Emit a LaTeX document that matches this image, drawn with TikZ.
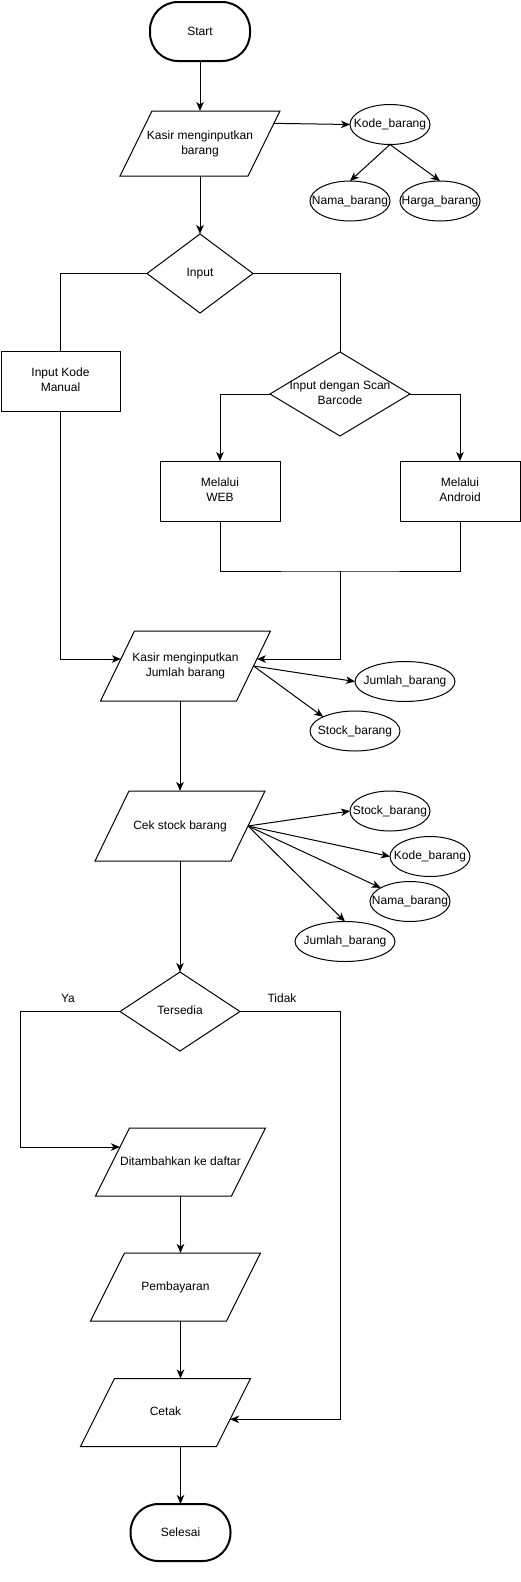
\documentclass[tikz,border=0pt]{standalone}
\usepackage{fontspec}
\setmainfont{Liberation Sans}
\usetikzlibrary{shapes.geometric,arrows.meta,calc}
\newcommand\zw[1]{\makebox[0pt]{\begin{tabular}{@{}c@{}}#1\end{tabular}}}
% #1 name, #2 centre, #3 top length, #4 height, #5 half skew, #6 text
\newcommand\paranode[6]{%
  \node[paratext, minimum width=#3, minimum height=#4] (#1) at (#2) {\zw{#6}};
  \coordinate (#1-tl) at ($(#1.north west)+(#5,0)$);
  \coordinate (#1-tr) at ($(#1.north east)+(#5,0)$);
  \coordinate (#1-br) at ($(#1.south east)+(-#5,0)$);
  \coordinate (#1-bl) at ($(#1.south west)+(-#5,0)$);
  \draw (#1-tl) -- (#1-tr) -- (#1-br) -- (#1-bl) -- cycle;
}
\begin{document}
\begin{tikzpicture}[x=1pt,y=-1pt,line width=1pt,
  every node/.style={font=\fontsize{12}{15}\selectfont, inner sep=0pt, outer sep=0pt},
  terminal/.style={draw, line width=2pt, rectangle, rounded corners=28pt, minimum width=100pt, minimum height=59pt},
  paratext/.style={rectangle},
  box/.style={draw, rectangle, minimum width=120pt, minimum height=60pt},
  dec/.style={draw, diamond},
  ell/.style={draw, ellipse, minimum width=80pt, minimum height=40pt},
  arr/.style={-{Stealth[length=9pt,width=7.5pt,inset=2.5pt]}}]
\useasboundingbox (0,0) rectangle (521,1582);

% nodes
\node[terminal] (start) at (200,31.5) {Start};
\paranode{p1}{200,143.5}{128pt}{65pt}{16}{Kasir menginputkan\\barang}
\node[ell] (kode1) at (390,124.5) {\zw{Kode\_barang}};
\node[ell] (nama1) at (350,201) {\zw{Nama\_barang}};
\node[ell] (harga1) at (440,201) {\zw{Harga\_barang}};
\node[dec, minimum width=106pt, minimum height=79pt] (input) at (200,273.5) {\zw{Input}};
\node[box, minimum width=119pt] (manual) at (60.5,381) {\zw{Input Kode\\Manual}};
\node[dec, minimum width=140pt, minimum height=84pt] (scan) at (340,394) {\zw{Input dengan Scan\\Barcode}};
\node[box] (web) at (220,491) {\zw{Melalui\\WEB}};
\node[box] (android) at (460,491) {\zw{Melalui\\Android}};
\coordinate (join) at (340,571);
\paranode{p2}{185.5,666}{136pt}{70pt}{17}{Kasir menginputkan\\Jumlah barang}
\node[ell, minimum width=100pt] (jumlah2) at (405,681.5) {\zw{Jumlah\_barang}};
\node[ell, minimum width=90pt] (stock2) at (355,731) {\zw{Stock\_barang}};
\paranode{cek}{180,826}{136pt}{70pt}{17}{Cek stock barang}
\node[ell] (stock3) at (390,811) {\zw{Stock\_barang}};
\node[ell] (kode3) at (430,856.5) {\zw{Kode\_barang}};
\node[ell] (nama3) at (410,901.5) {\zw{Nama\_barang}};
\node[ell, minimum width=100pt] (jumlah3) at (345,941.5) {\zw{Jumlah\_barang}};
\node[dec, minimum width=120pt, minimum height=79pt] (tersedia) at (180,1011.5) {\zw{Tersedia}};
\node (ya) at (68,998.5) {Ya};
\node (tidak) at (282,998.5) {Tidak};
\paranode{dit}{180.5,1162}{136pt}{68pt}{17}{Ditambahkan ke daftar}
\paranode{pemb}{175.5,1287}{136pt}{68pt}{17}{Pembayaran}
\paranode{cetak}{165.5,1412.5}{136pt}{68pt}{17}{Cetak}
\node[terminal, minimum height=57pt] (selesai) at (180.5,1532.5) {Selesai};

% connection points on slanted sides
\coordinate (p1R) at ($(p1-tr)!0.19!(p1-br)$);
\coordinate (p2L) at ($(p2-tl)!0.4!(p2-bl)$);
\coordinate (p2R) at ($(p2-tr)!0.4!(p2-br)$);
\coordinate (ditL) at ($(dit-tl)!0.28!(dit-bl)$);
\coordinate (cetR) at ($(cetak-tr)!0.6!(cetak-br)$);

% connectors
\draw[arr] (start.south) -- (p1.north);
\draw[arr] (p1R) -- (kode1.west);
\draw[arr] (kode1.south) -- (nama1.north);
\draw[arr] (kode1.south) -- (harga1.north);
\draw[arr] (p1.south) -- (input.north);
\draw (input.west) -| (manual.north);
\draw (input.east) -| (scan.north);
\draw[arr] (scan.west) -| (web.north);
\draw[arr] (scan.east) -| (android.north);
\draw (web.south) |- (join) -| (android.south);
\draw[arr] (join) |- (p2R);
\draw[arr] (manual.south) |- (p2L);
\draw[arr] (p2.east) -- (jumlah2.west);
\draw[arr] (p2.east) -- (stock2.north west);
\draw[arr] (cek.north |- p2.south) -- (cek.north);
\draw[arr] (cek.east) -- (stock3.west);
\draw[arr] (cek.east) -- (kode3.west);
\draw[arr] (cek.east) -- (nama3);
\draw[arr] (cek.east) -- (jumlah3.north);
\draw[arr] (cek.south) -- (tersedia.north);
\draw[arr] (tersedia.west) -- ++(-100,0) |- (ditL);
\draw[arr] (tersedia.east) -- ++(100,0) |- (cetR);
\draw[arr] (dit.south) -- (dit.south |- pemb.north);
\draw[arr] (dit.south |- pemb.south) -- (dit.south |- cetak.north);
\draw[arr] (selesai.north |- cetak.south) -- (selesai.north);
\end{tikzpicture}
\end{document}
